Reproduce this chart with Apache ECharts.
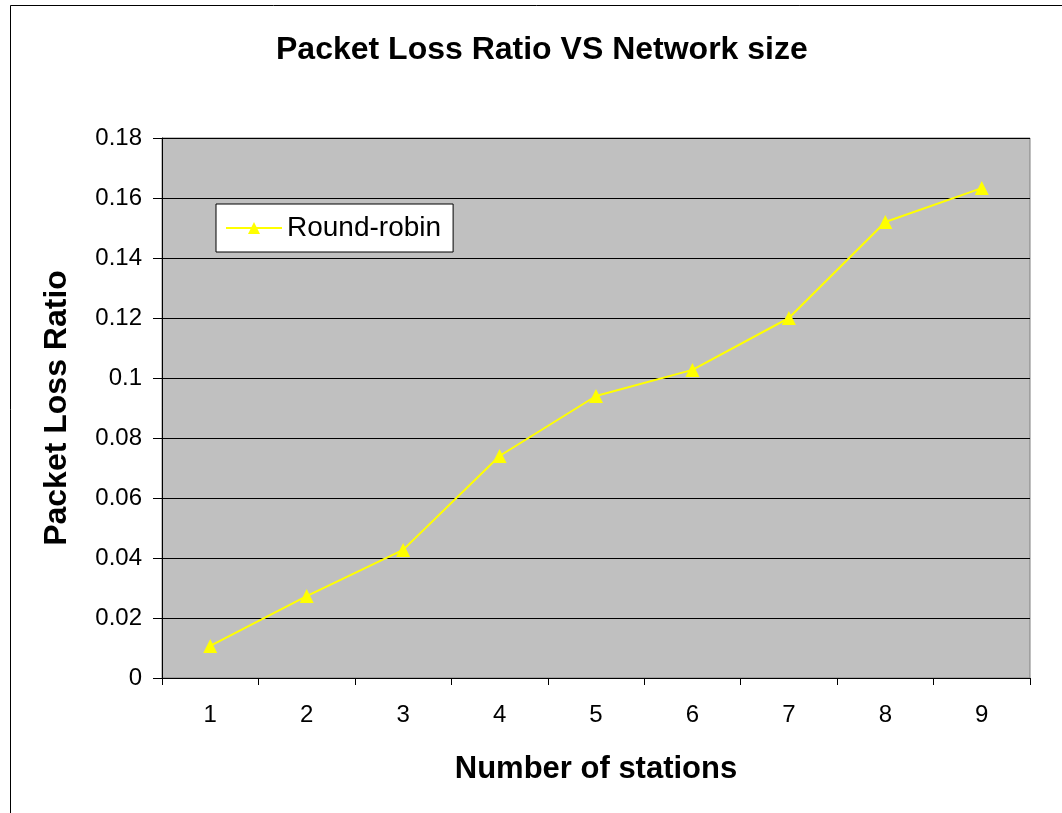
<!DOCTYPE html>
<html>
<head>
<meta charset="utf-8">
<script src="https://cdn.jsdelivr.net/npm/echarts@6/dist/echarts.min.js"></script>
<style>
html,body{margin:0;padding:0;background:#fff;}
#chart{width:1062px;height:813px;}
</style>
</head>
<body>
<div id="chart"></div>
<script>
var categories = ['1','2','3','4','5','6','7','8','9'];
var roundRobin = [0.0107, 0.0273, 0.0427, 0.074, 0.094, 0.1027, 0.12, 0.152, 0.1633];
var seriesName = 'Round-robin';
var titleText = 'Packet Loss Ratio VS Network size';
var xName = 'Number of stations';
var yName = 'Packet Loss Ratio';

var FONT = "'Liberation Sans', Arial, sans-serif";
var chart = echarts.init(document.getElementById('chart'));
chart.setOption({
  backgroundColor: '#fff',
  animation: false,
  graphic: [{
    type: 'rect', silent: true, z: -1,
    shape: { x: 10.5, y: 5.5, width: 1200, height: 1000 },
    style: { fill: 'none', stroke: '#000', lineWidth: 1 }
  }],
  title: {
    text: titleText,
    left: 271,
    top: 29,
    textStyle: { fontFamily: FONT, fontSize: 32, fontWeight: 'bold', color: '#000' }
  },
  legend: {
    data: [seriesName],
    left: 216,
    top: 204,
    orient: 'vertical',
    backgroundColor: '#fff',
    borderColor: '#000',
    borderWidth: 1,
    borderRadius: 0,
    padding: [10, 12, 10, 9],
    itemWidth: 56,
    itemHeight: 15,
    textStyle: { fontFamily: FONT, fontSize: 28, color: '#000' }
  },
  grid: {
    left: 162, right: 32, top: 138, bottom: 135,
    show: true,
    backgroundColor: '#C0C0C0',
    borderColor: '#808080',
    borderWidth: 1
  },
  xAxis: {
    type: 'category',
    data: categories,
    boundaryGap: true,
    name: xName,
    nameLocation: 'middle',
    nameGap: 76,
    nameTextStyle: { fontFamily: FONT, fontSize: 31, fontWeight: 'bold', color: '#000' },
    axisLine: { show: true, lineStyle: { color: '#000', width: 1 } },
    axisTick: { show: true, length: 7, lineStyle: { color: '#000' } },
    axisLabel: { margin: 25, fontFamily: FONT, fontSize: 24, color: '#000' },
    splitLine: { show: false }
  },
  yAxis: {
    type: 'value',
    min: 0,
    max: 0.18,
    interval: 0.02,
    name: yName,
    nameLocation: 'middle',
    nameGap: 89,
    nameTextStyle: { fontFamily: FONT, fontSize: 32, fontWeight: 'bold', color: '#000' },
    axisLine: { show: true, lineStyle: { color: '#000', width: 1 } },
    axisTick: { show: true, length: 9, lineStyle: { color: '#000' } },
    axisLabel: {
      margin: 20, fontFamily: FONT, fontSize: 24, color: '#000',
      formatter: function (v) { return String(parseFloat(v.toFixed(2))); }
    },
    splitLine: { show: true, lineStyle: { color: '#000', width: 1 } }
  },
  series: [{
    name: seriesName,
    type: 'line',
    data: roundRobin,
    symbol: 'triangle',
    symbolSize: 14,
    lineStyle: { color: '#FFFF00', width: 2 },
    itemStyle: { color: '#FFFF00' }
  }]
});
</script>
</body>
</html>
